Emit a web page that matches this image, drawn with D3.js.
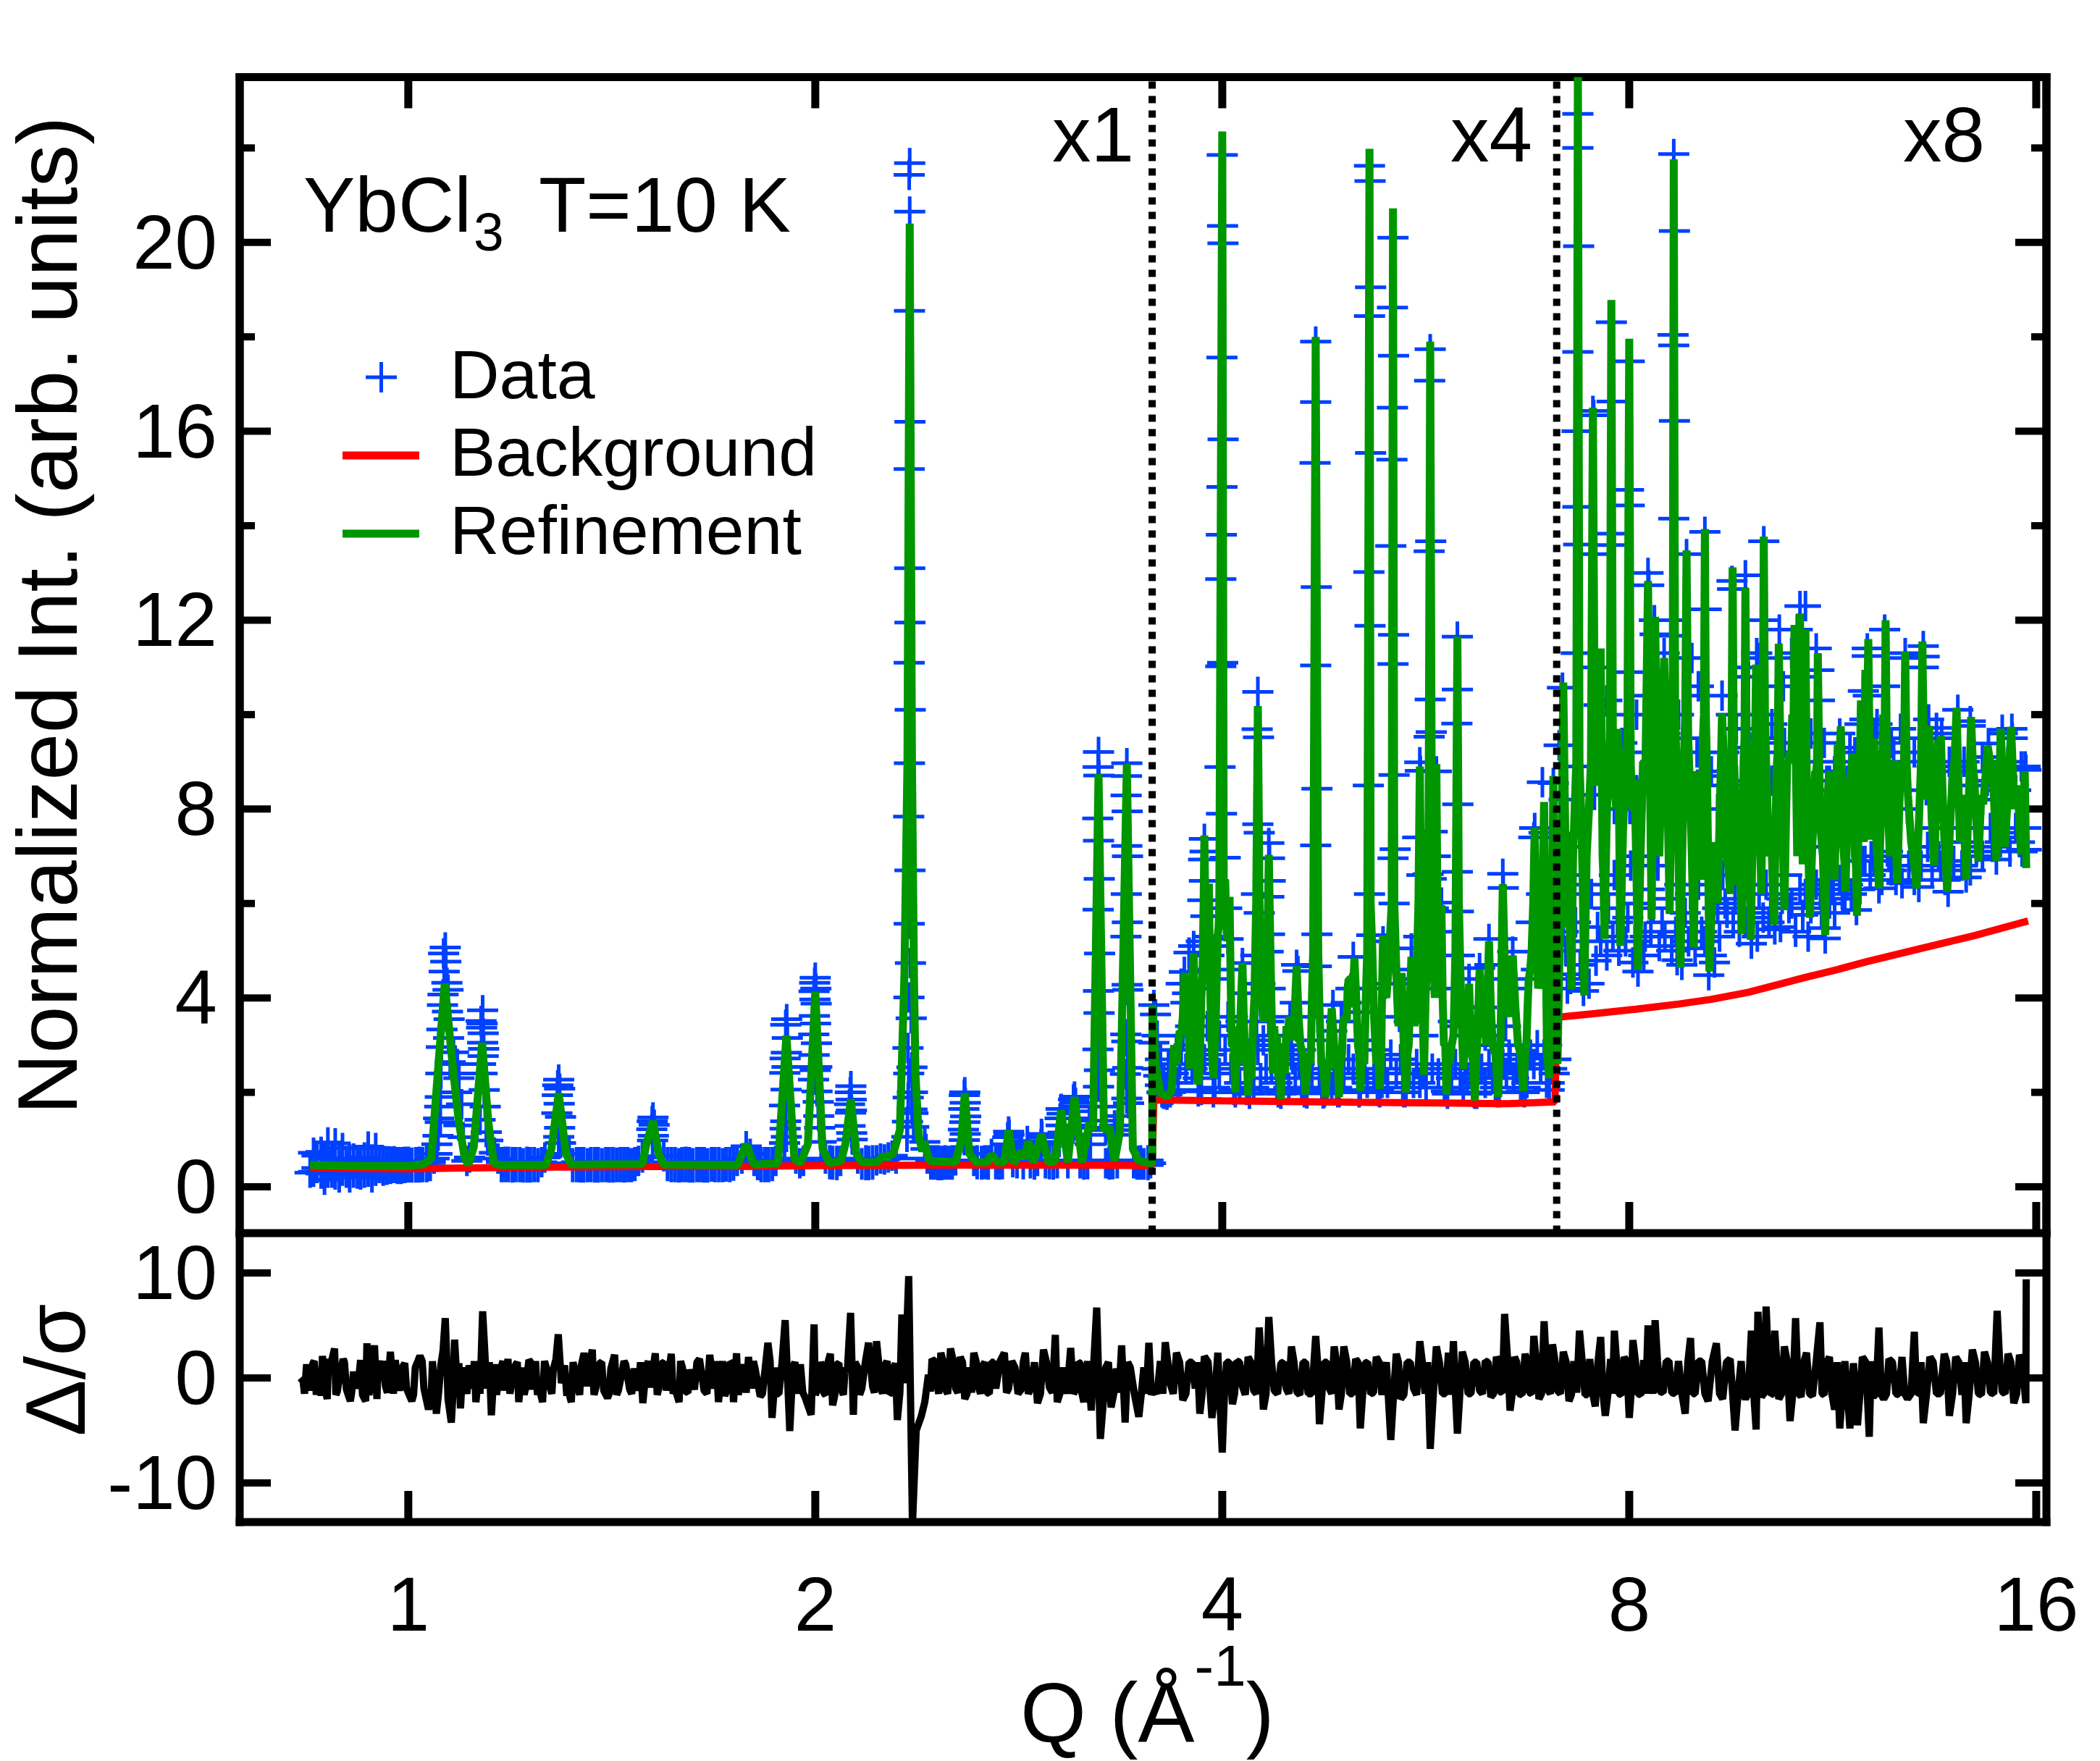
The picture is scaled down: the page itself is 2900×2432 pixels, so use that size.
<!DOCTYPE html>
<html><head><meta charset="utf-8">
<script src="https://cdn.jsdelivr.net/npm/d3@7/dist/d3.min.js"></script>
<style>
html,body{margin:0;padding:0;background:#fff}
text{font-family:"Liberation Sans",Arial,sans-serif;fill:#000}
</style></head><body>
<svg id="c" width="2900" height="2432"></svg>
<script>
// ---------- values: [Q, intensity] ----------
const dataX1Band=[[.846,.3],[.851,.72],[.856,.4],[.862,.74],[.867,.15],[.872,.94],[.878,.3],[.883,.92],[.889,.2],[.894,.82],[.9,.55],[.905,.2],[.911,.6],[.917,.28],[.922,.5],[.928,.3],[.934,.85],[.94,.2],[.946,.82],[.952,.4],[.958,.55],[.964,.36],[.97,.53],[.976,.4],[.982,.52],[.988,.38],[.994,.53],[1,.41],[1.006,.51],[1.013,.41],[1.019,.53],[1.025,.42],[1.032,.54],[1.038,.44],[1.045,.6],[1.05,.7],[1.105,.55],[1.11,.62],[1.158,.72],[1.165,.6],[1.172,.52],[1.179,.42],[1.186,.53],[1.194,.41],[1.201,.52],[1.209,.42],[1.216,.5],[1.224,.41],[1.231,.52],[1.239,.42],[1.247,.5],[1.255,.52],[1.262,.62],[1.315,.7],[1.323,.5],[1.332,.42],[1.34,.52],[1.348,.41],[1.357,.5],[1.365,.42],[1.374,.52],[1.382,.41],[1.391,.5],[1.4,.42],[1.408,.52],[1.417,.41],[1.426,.51],[1.435,.42],[1.444,.52],[1.453,.42],[1.462,.5],[1.471,.44],[1.48,.55],[1.49,.62],[1.545,.65],[1.555,.44],[1.565,.52],[1.575,.42],[1.585,.5],[1.594,.42],[1.604,.53],[1.614,.41],[1.624,.5],[1.635,.42],[1.645,.52],[1.655,.41],[1.665,.5],[1.676,.43],[1.686,.52],[1.697,.42],[1.708,.5],[1.718,.43],[1.729,.52],[1.74,.45],[1.751,.55],[1.765,.6],[1.778,.86],[1.79,.7],[1.802,.55],[1.813,.46],[1.824,.52],[1.836,.42],[1.847,.52],[1.859,.44],[1.87,.55],[1.935,.6],[1.948,.5],[1.96,.55],[2.035,.6],[2.05,.48],[2.06,.55],[2.075,.46],[2.088,.55],[2.15,.6],[2.165,.5],[2.18,.46],[2.19,.55],[2.205,.47],[2.22,.56],[2.235,.6],[2.25,.58],[2.265,.62],[2.28,.66],[2.295,.6],[2.42,.6],[2.435,.47],[2.45,.56],[2.465,.46],[2.48,.55],[2.495,.47],[2.51,.55],[2.525,.47],[2.54,.56],[2.62,.55],[2.635,.48],[2.655,.55],[2.67,.48],[2.685,.56],[2.7,.7],[2.72,.48],[2.735,.56],[2.75,.48],[2.8,.52],[2.82,.5],[2.835,.75],[2.85,.48],[2.87,.97],[2.885,.5],[2.905,.5],[2.92,.55],[2.96,.5],[2.98,.48],[3,.55],[3.02,.5],[3.075,.5],[3.14,.5],[3.16,.55],[3.18,.48],[3.28,.5],[3.3,.55],[3.32,.48],[3.345,.5],[3.44,.5],[3.46,.55],[3.48,.47],[3.5,.5],[3.525,.46],[3.54,.5]];
const dataX1BandAlt=[[.851,.32],[.856,.66],[.862,.28],[.867,.6],[.872,.3],[.878,.6],[.883,.26],[.889,.58],[.894,.34],[.9,.3],[.905,.58],[.911,.3],[.917,.56],[.922,.26],[.928,.62],[.934,.32],[.94,.58],[.946,.34],[.952,.56],[.958,.34],[.964,.54],[.97,.38],[.976,.54],[.982,.38],[.988,.52],[.994,.4],[1,.53],[1.006,.41],[1.013,.52],[1.019,.41],[1.025,.52],[1.032,.42],[1.038,.52],[1.172,.42],[1.179,.53],[1.186,.42],[1.194,.52],[1.201,.42],[1.209,.52],[1.216,.41],[1.224,.53],[1.231,.41],[1.239,.52],[1.247,.42],[1.323,.42],[1.332,.52],[1.34,.41],[1.348,.52],[1.357,.42],[1.365,.52],[1.374,.41],[1.382,.52],[1.391,.42],[1.4,.52],[1.408,.41],[1.417,.52],[1.426,.42],[1.435,.52],[1.444,.41],[1.453,.52],[1.462,.42],[1.471,.52],[1.555,.52],[1.565,.42],[1.575,.52],[1.585,.41],[1.594,.52],[1.604,.42],[1.614,.52],[1.624,.41],[1.635,.52],[1.645,.42],[1.655,.52],[1.665,.41],[1.676,.52],[1.686,.42],[1.697,.52],[1.708,.42],[1.718,.52],[1.729,.42],[1.74,.52],[1.813,.52],[1.824,.42],[1.836,.52],[1.847,.42],[1.859,.52],[2.05,.56],[2.06,.47],[2.075,.55],[2.165,.47],[2.18,.56],[2.19,.46],[2.205,.56],[2.435,.56],[2.45,.47],[2.465,.56],[2.48,.46],[2.495,.56],[2.51,.47],[2.525,.56],[2.635,.56],[2.655,.47],[2.67,.56],[2.685,.47],[2.72,.56],[2.735,.47],[2.75,.56],[2.82,.56],[2.85,.56],[2.885,.56],[2.905,.47],[2.96,.56],[2.98,.55],[3,.47],[3.02,.56],[3.14,.56],[3.16,.47],[3.18,.56],[3.3,.47],[3.32,.56],[3.44,.56],[3.46,.47],[3.48,.56],[3.5,.47],[3.525,.56]];
const dataX1Peaks=[[1.065,5.07],[1.062,4.94],[1.066,4.77],[1.063,4.56],[1.068,4.32],[1.07,4.17],[1.061,4.07],[1.06,3.85],[1.069,3.71],[1.072,3.55],[1.059,3.33],[1.071,3.15],[1.058,2.96],[1.074,2.64],[1.057,2.4],[1.056,1.9],[1.055,1.7],[1.053,1.45],[1.056,1.37],[1.052,1.08],[1.05,.9],[1.08,2.85],[1.087,2.6],[1.082,2.4],[1.09,2.3],[1.086,2.0],[1.095,1.75],[1.09,1.3],[1.098,1.05],[1.135,3.74],[1.132,3.51],[1.134,3.46],[1.133,3.37],[1.136,3.25],[1.135,3.05],[1.137,2.92],[1.136,2.77],[1.131,2.6],[1.134,2.4],[1.138,2.05],[1.14,1.7],[1.13,1.42],[1.142,1.16],[1.145,.98],[1.292,2.27],[1.29,2.15],[1.294,2.08],[1.289,1.94],[1.293,1.76],[1.288,1.56],[1.296,1.48],[1.294,1.25],[1.292,1.06],[1.296,.93],[1.517,1.47],[1.515,1.39],[1.52,1.31],[1.514,1.22],[1.518,1.08],[1.516,.98],[1.905,3.55],[1.902,3.43],[1.907,3.15],[1.904,2.84],[1.9,2.72],[1.906,2.54],[1.899,2.41],[1.903,2.06],[1.898,1.72],[1.902,1.39],[1.9,1.23],[1.904,1.06],[1.898,.93],[2,4.43],[1.998,4.32],[2.002,4.2],[1.996,4.14],[1.999,3.97],[2.003,3.88],[1.997,3.62],[2.001,3.46],[1.995,3.23],[2.004,3.04],[1.996,2.79],[2.005,2.54],[2,2.47],[1.994,2.27],[2.006,2.02],[2.01,1.8],[2.012,1.5],[2.015,1.25],[2.02,.95],[2.125,2.13],[2.123,2],[2.126,1.85],[2.12,1.75],[2.127,1.62],[2.124,1.57],[2.122,1.29],[2.128,1.14],[2.13,1],[2.349,21.68],[2.347,21.43],[2.349,20.65],[2.348,18.55],[2.35,16.2],[2.347,15.2],[2.349,13.1],[2.35,11.95],[2.347,11.1],[2.351,10.1],[2.348,8.97],[2.345,7.84],[2.35,6.7],[2.347,5.57],[2.352,4.74],[2.346,4.01],[2.355,3.57],[2.342,2.94],[2.358,2.53],[2.345,2.4],[2.36,2],[2.343,1.89],[2.358,1.64],[2.362,1.56],[2.34,1.38],[2.365,1.27],[2.338,1.06],[2.41,.95],[2.415,.8],[2.58,2],[2.578,1.94],[2.582,1.78],[2.576,1.65],[2.584,1.49],[2.58,1.37],[2.574,1.21],[2.582,1.12],[2.578,.99],[2.78,1.17],[2.782,1.1],[2.776,1.05],[2.78,.9],[2.784,.75],[2.94,1.12],[2.942,1.05],[2.938,.9],[3.04,1.65],[3.045,1.55],[3.035,1.45],[3.04,1.3],[3.05,1.15],[3.03,.95],[3.11,1.91],[3.105,1.85],[3.115,1.78],[3.11,1.7],[3.1,1.6],[3.12,1.45],[3.11,1.3],[3.19,1.4],[3.19,1.25],[3.185,1.1],[3.195,.9],[3.27,1.7],[3.275,1.4],[3.28,1.2],[3.33,1.3],[3.34,1.1],[3.36,1.5],[3.355,1.2],[3.24,9.21],[3.238,8.89],[3.242,8.71],[3.236,7.8],[3.24,7.33],[3.244,6.52],[3.238,5.87],[3.246,4.94],[3.24,4.15],[3.243,3.68],[3.237,2.91],[3.245,2.47],[3.24,2.12],[3.4,8.97],[3.398,8.7],[3.396,8.29],[3.402,7.95],[3.4,7.22],[3.404,7],[3.397,6.2],[3.403,5.6],[3.395,5.3],[3.402,4.28],[3.406,4.17],[3.394,3.23],[3.4,3.08],[3.405,2.52],[3.392,2.39],[3.4,1.87],[3.41,1.77]];
const dataX4Band=[[3.62,2.3],[3.65,2.6],[3.67,2.05],[3.69,2.5],[3.71,2.2],[3.73,2.9],[3.76,2.5],[3.78,3],[3.8,2.5],[3.82,2.9],[3.84,2.3],[3.86,2.05],[3.88,2.7],[3.9,3.4],[3.92,2.8],[3.94,2],[3.96,2.6],[3.98,2.4],[4.02,2.9],[4.04,3.6],[4.06,2.5],[4.08,2.05],[4.1,2.5],[4.12,2.2],[4.15,3],[4.18,2.05],[4.2,2.5],[4.22,2.1],[4.25,2.9],[4.27,2.3],[4.29,3.1],[4.31,2.5],[4.33,3.5],[4.35,2.5],[4.37,3],[4.39,2.2],[4.41,2.05],[4.43,2.3],[4.46,2.6],[4.48,2.1],[4.51,2.7],[4.53,2.3],[4.56,2.6],[4.58,2.1],[4.61,2.05],[4.63,2.5],[4.66,2.3],[4.72,2.4],[4.74,2.1],[4.76,2],[4.8,2.3],[4.82,2.05],[4.84,2.5],[4.86,2.1],[4.88,2],[4.92,2.4],[4.96,2.7],[5,2.5],[5.04,2.3],[5.06,2.05],[5.1,2.5],[5.12,2.2],[5.18,2.4],[5.21,2.1],[5.23,2],[5.27,2.5],[5.3,2.2],[5.33,2.8],[5.38,2.4],[5.42,2.7],[5.44,2.1],[5.46,2],[5.5,2.4],[5.54,2.2],[5.57,2.6],[5.6,2.2],[5.63,2.4],[5.66,2.1],[5.72,2.5],[5.78,2.4],[5.84,2.1],[5.87,1.97],[5.91,2.3],[5.95,2.6],[6,2.3],[6.03,2.1],[6.07,2.3],[6.11,2.4],[6.14,2],[6.17,1.97],[6.22,2.5],[6.26,2.2],[6.3,2.6],[6.34,2.3],[6.37,2.1],[6.41,2],[6.45,2.6],[6.49,2.4],[6.53,2.7],[6.57,2.3],[6.61,2.5],[6.65,2.1],[6.69,2],[6.72,2.2],[6.76,2.8],[6.8,2.6],[6.84,3],[6.88,2.5],[6.92,2.8],[6.95,2.2],[6.98,2.05],[7.01,2.5],[7.04,2.4]];
const dataX4=[[3.56,3.85],[3.57,3.65],[3.58,3.2],[3.56,3.05],[3.6,2.7],[3.58,2.5],[3.59,2.35],[3.6,2.15],[3.61,2],[3.62,1.97],[3.64,1.95],[3.66,2],[3.68,2.4],[3.7,2.9],[3.72,2.6],[3.74,3.2],[3.76,3.9],[3.77,4.1],[3.75,4.55],[3.73,4.3],[3.79,3.4],[3.81,5.1],[3.78,4.96],[3.82,4.2],[3.84,2.02],[3.85,2.9],[3.86,3.6],[3.87,4.6],[3.88,7.37],[3.885,7.1],[3.875,6.93],[3.88,6.48],[3.87,6.07],[3.89,5.73],[3.9,5.3],[3.91,4.9],[3.86,5.2],[3.93,3.4],[3.95,2.1],[3.97,5.1],[3.96,4.4],[3.98,3.2],[4,21.85],[4.002,20.35],[4.005,19.98],[3.998,17.56],[4.006,15.83],[3.998,14.82],[3.994,13.81],[3.99,12.87],[4.003,11.1],[3.99,11.02],[3.985,8.89],[3.995,7.9],[4.02,6.97],[4.03,5.9],[4.04,5.25],[4.05,4.6],[4.07,3.6],[4.09,2],[4.11,2.6],[4.13,3.5],[4.14,4.74],[4.15,4.1],[4.17,2.05],[4.19,1.97],[4.21,3],[4.23,4.3],[4.25,10.48],[4.245,9.69],[4.255,9.52],[4.25,7.68],[4.26,7.5],[4.24,6.2],[4.26,5.8],[4.235,4.9],[4.265,4.3],[4.24,3.5],[4.33,7.28],[4.335,6.96],[4.34,6.48],[4.33,6.14],[4.335,5.35],[4.325,4.98],[4.34,4.2],[4.36,3.2],[4.38,2.9],[4.4,2],[4.42,1.97],[4.45,3],[4.49,3.6],[4.5,2.8],[4.54,4.7],[4.55,4.57],[4.53,3.9],[4.57,2.9],[4.6,2],[4.62,1.98],[4.65,3.1],[4.69,17.9],[4.69,16.62],[4.685,15.33],[4.695,12.7],[4.69,11.04],[4.7,8.43],[4.69,7.23],[4.7,5.35],[4.695,4.67],[4.71,3.6],[4.73,2.5],[4.75,1.98],[4.78,2.05],[4.83,3.85],[4.82,3.3],[4.85,2.3],[4.87,2],[4.9,3.5],[4.94,3.9],[5,4.87],[4.98,4.2],[5.02,3.7],[5.05,2],[5.08,3.1],[5.14,21.62],[5.145,21.3],[5.15,19.05],[5.14,18.44],[5.15,15.54],[5.135,13.02],[5.145,11.88],[5.13,8.5],[5.14,6.2],[5.16,5.33],[5.17,4.2],[5.2,2.9],[5.22,2.03],[5.25,2.2],[5.26,5.2],[5.28,4.3],[5.35,20.1],[5.345,18.62],[5.355,17.6],[5.345,16.5],[5.34,15.4],[5.33,13.57],[5.355,11.69],[5.35,11.07],[5.36,8.72],[5.37,7.15],[5.35,6.96],[5.36,6],[5.38,4.6],[5.41,3.6],[5.45,2],[5.47,2.1],[5.5,3.5],[5.52,5.05],[5.54,4.3],[5.6,8.99],[5.605,8.81],[5.58,7.4],[5.62,6.6],[5.59,5.3],[5.61,4.4],[5.63,3.2],[5.7,17.74],[5.695,17.07],[5.705,13.67],[5.69,13.46],[5.7,10.32],[5.71,9.63],[5.69,9.53],[5.72,7.52],[5.68,6.62],[5.71,6.52],[5.73,5.9],[5.76,8.8],[5.75,7],[5.81,6.02],[5.8,5.4],[5.83,4.2],[5.86,2.02],[5.89,2.6],[5.93,3.5],[5.97,11.65],[5.97,10.53],[5.965,9.81],[5.975,8.1],[5.97,6.67],[5.98,5.83],[5.99,4.9],[6.02,3.4],[6.05,2.5],[6.09,4.4],[6.12,3.2],[6.15,1.97],[6.17,2.2],[6.2,4.63],[6.22,3.8],[6.26,3.2],[6.3,5.25],[6.31,4.7],[6.35,3],[6.39,2],[6.41,2.5],[6.45,6.63],[6.455,6.33],[6.44,5.25],[6.46,4.4],[6.48,3.4],[6.52,2.8],[6.56,4.98],[6.58,4.2],[6.62,3],[6.66,2.02],[6.7,2.1],[6.74,4.4],[6.81,7.6],[6.8,7.4],[6.77,5.6],[6.83,4.6],[6.9,8.57],[6.92,7.5],[6.89,6.2],[6.93,5.2],[6.95,3],[6.98,2.2],[7.03,8.55],[7.02,7.4],[7.04,6],[7.05,4.4],[7.06,2.7]];
const dataX8=[[7.14,10.57],[7.12,9.35],[7.1,9.35],[7.16,8.2],[7.18,6.6],[7.15,5.4],[7.2,4.2],[7.22,7.2],[7.28,4.5],[7.33,22.72],[7.33,22],[7.34,19.92],[7.33,17.68],[7.32,16],[7.33,14.4],[7.34,13.6],[7.31,11.3],[7.35,8.9],[7.37,6.4],[7.4,4.15],[7.47,4.3],[7.52,16.43],[7.53,16.34],[7.52,13.4],[7.5,11],[7.54,8.3],[7.56,4.79],[7.6,10.2],[7.62,5.2],[7.66,9.3],[7.7,4.9],[7.76,18.31],[7.77,16.63],[7.76,13.83],[7.75,13.59],[7.74,10],[7.78,5.3],[7.8,8],[7.86,5],[7.9,9.4],[7.95,5.2],[8,17.48],[7.99,14.76],[8,14.43],[8.02,10.9],[8.01,8],[8.05,4.75],[8.1,8.4],[8.12,4.56],[8.16,7],[8.2,4.9],[8.26,13],[8.27,12.74],[8.25,10.4],[8.24,9.2],[8.3,5.4],[8.35,12],[8.36,11.7],[8.37,9],[8.42,5.1],[8.49,11.3],[8.48,9.8],[8.5,5.3],[8.56,9.5],[8.6,5],[8.63,21.87],[8.64,20.24],[8.62,18.04],[8.63,17.82],[8.64,16.22],[8.63,14.15],[8.62,12],[8.63,11.67],[8.65,9.5],[8.68,4.8],[8.75,4.7],[8.82,13.4],[8.8,11.2],[8.84,9.5],[8.85,5.2],[8.95,5.05],[8.98,9.2],[9.05,5.4],[9.1,13.87],[9.12,12.23],[9.08,10.4],[9.13,8.7],[9.16,4.48],[9.2,4.9],[9.25,4.75],[9.3,8],[9.33,5.3],[9.37,10.4],[9.4,8.5],[9.45,5.8],[9.53,12.83],[9.54,12.66],[9.52,10],[9.55,5.6],[9.6,8.6],[9.65,5.4],[9.75,12.95],[9.74,11],[9.72,8],[9.75,5.6],[9.82,9.3],[9.85,5.15],[9.94,11.3],[9.92,8.4],[9.95,5.3],[10.02,9.5],[10.05,5.7],[10.06,13.67],[10.07,12],[10.08,10],[10.15,5.6],[10.2,8.6],[10.25,5.45],[10.33,11.8],[10.34,11.2],[10.32,9.2],[10.35,5.5],[10.42,9.4],[10.5,5.9],[10.55,11.3],[10.62,5.4],[10.65,11.8],[10.7,12.3],[10.68,10.8],[10.75,5.76],[10.8,12.3],[10.78,9],[10.85,5.3],[10.92,7.2],[11,11.4],[11.05,10.94],[11.06,10.3],[11.03,8.4],[11.08,6.2],[11.17,5.48],[11.17,5.26],[11.2,8.6],[11.25,8.6],[11.25,6],[11.32,6.3],[11.45,9.6],[11.4,9],[11.42,8.1],[11.45,6.5],[11.55,6.1],[11.6,8.6],[11.75,9.2],[11.7,8],[11.78,5.86],[11.85,9.8],[11.88,8.2],[11.92,10.5],[11.92,6.9],[12,11.4],[12,11.24],[12.02,10.4],[11.98,9],[12.08,7],[12.16,9.6],[12.24,6.32],[12.28,8.6],[12.36,11.8],[12.36,10.6],[12.4,8.8],[12.45,7],[12.55,9.2],[12.6,8.4],[12.73,6.43],[12.75,9],[12.8,11.3],[12.8,11.2],[12.78,9.5],[12.85,8],[12.95,7],[13.1,6.35],[13.2,11.45],[13.22,11.23],[13.2,11],[13.18,9.2],[13.27,8.4],[13.32,9.9],[13.38,7.6],[13.5,9.72],[13.5,9.5],[13.55,7],[13.62,9.6],[13.77,6.25],[13.82,8.8],[14,10.1],[14.02,8.9],[14.05,7.6],[14.2,6.55],[14.25,7.3],[14.3,9.86],[14.3,9.76],[14.35,8.8],[14.42,8.5],[14.5,7.2],[14.6,8.2],[14.75,9.39],[14.72,8.6],[14.8,7.6],[14.95,6.93],[15,8.4],[15.1,9.68],[15.1,9.6],[15.15,8.2],[15.17,7.5],[15.3,7.1],[15.35,9.7],[15.36,9.5],[15.45,8.4],[15.55,7.3],[15.62,7.1],[15.7,8.9],[15.72,8.83],[15.72,7.6],[15.73,7.14]];
const dataX8Band=[[7.18,5],[7.24,4.4],[7.3,5.6],[7.36,4.7],[7.44,5.2],[7.5,6.2],[7.58,5.5],[7.64,6.4],[7.72,5.9],[7.8,6.6],[7.84,5.6],[7.92,6.2],[7.98,5.7],[8.02,6.8],[8.08,5.2],[8.15,6],[8.22,5.3],[8.28,6.3],[8.33,5.9],[8.4,6.8],[8.46,5.6],[8.54,6.1],[8.66,5.4],[8.72,6.4],[8.8,5.8],[8.88,6.2],[8.92,5.6],[9,6.4],[9.1,5.2],[9.2,5.6],[9.3,5.9],[9.38,6.6],[9.42,6],[9.5,6.6],[9.58,6.1],[9.62,6.8],[9.7,5.9],[9.78,6.4],[9.88,5.8],[9.98,6.2],[10.1,6.4],[10.18,5.9],[10.28,6.2],[10.38,6.1],[10.46,6.6],[10.55,6],[10.7,6.3],[10.8,6.2],[10.9,5.9],[11,6.4],[11.1,5.8],[11.25,6.5],[11.35,5.8],[11.5,6.2],[11.6,6.4],[11.68,6.2],[11.74,6.5],[11.85,6.3],[11.95,6.9],[12.06,6.6],[12.14,6.9],[12.3,6.5],[12.42,7.1],[12.5,6.7],[12.6,6.5],[12.68,7],[12.88,6.8],[13,6.5],[13.15,6.8],[13.3,7.2],[13.4,6.7],[13.6,6.8],[13.7,6.5],[13.9,6.9],[14.1,6.8],[14.3,6.7],[14.45,7.1],[14.6,7],[14.85,7.2],[15.05,7.3],[15.25,7.4],[15.45,7.6],[7.7,10.3],[7.9,8],[8.1,10],[8.3,8.6],[8.5,9.6],[8.7,10],[8.9,11.2],[9,10.6],[9.2,8.8],[9.4,9.2],[9.6,9.7],[9.8,10.8],[10,11.2],[10.2,9.8],[10.4,10.6],[10.6,9],[10.9,9.6],[11.15,9.4],[11.35,8.8],[11.65,9.3],[11.95,9.9],[12.2,9.8],[12.5,9.4],[12.7,9.7],[13,9.2],[13.4,8.9],[13.8,9],[14.15,9],[14.6,9.1],[15.25,9],[15.6,8.9]];
const fitX1=[[.846,.46],[.92,.44],[1,.44],[1.027,.48],[1.04,.6],[1.053,2.64],[1.064,4.3],[1.08,2.4],[1.09,1.37],[1.101,.6],[1.108,.47],[1.118,.85],[1.134,3.05],[1.146,1.37],[1.157,.5],[1.17,.46],[1.264,.46],[1.276,.8],[1.292,1.98],[1.308,.7],[1.32,.47],[1.49,.48],[1.5,.9],[1.517,1.39],[1.532,.7],[1.545,.47],[1.752,.46],[1.778,.9],[1.802,.47],[1.877,.5],[1.904,3.2],[1.93,.6],[1.95,.5],[1.975,.9],[2,4.13],[2.025,.8],[2.05,.5],[2.09,.55],[2.105,.9],[2.125,1.85],[2.145,.7],[2.165,.52],[2.22,.52],[2.245,.65],[2.26,.62],[2.285,.72],[2.31,1.2],[2.328,4.5],[2.34,9],[2.349,20.4],[2.358,9],[2.366,4.5],[2.372,2.4],[2.385,1.1],[2.4,.75],[2.407,.96],[2.43,.55],[2.54,.52],[2.565,1],[2.58,1.98],[2.6,.7],[2.63,.52],[2.68,.52],[2.7,.68],[2.73,.52],[2.76,.52],[2.78,1.2],[2.805,.5],[2.84,.75],[2.855,.6],[2.875,.96],[2.9,.52],[2.94,1.11],[2.975,.52],[3.01,.55],[3.04,1.62],[3.075,.52],[3.11,1.9],[3.15,.52],[3.19,1.36],[3.21,1.2],[3.24,8.74],[3.27,1.2],[3.3,1.26],[3.33,.55],[3.36,1.16],[3.4,8.95],[3.435,.8],[3.47,.55],[3.54,.5],[3.55,.5]];
const fitX4=[[3.552,3.85],[3.57,2.6],[3.6,2],[3.64,1.9],[3.67,2.05],[3.7,2.6],[3.73,3.2],[3.75,4.53],[3.77,3.2],[3.785,2.5],[3.81,4.94],[3.83,2.6],[3.84,2.17],[3.85,2.6],[3.868,4.5],[3.88,7.44],[3.895,5.6],[3.91,6.42],[3.925,3.2],[3.94,2.3],[3.955,3.4],[3.97,5.35],[3.98,6],[4,22.35],[4.02,6.5],[4.035,5.2],[4.05,6.14],[4.065,3],[4.09,2],[4.115,2.6],[4.14,4.74],[4.16,2.6],[4.18,1.93],[4.205,2.3],[4.225,4],[4.25,10.18],[4.272,4.4],[4.29,3.5],[4.315,4.2],[4.33,7.03],[4.35,3.8],[4.36,2.4],[4.38,2.92],[4.4,2.3],[4.42,1.86],[4.45,2.4],[4.475,3.2],[4.49,3.47],[4.515,3.1],[4.54,4.67],[4.57,3],[4.61,1.96],[4.65,2.6],[4.67,5],[4.69,18],[4.71,5],[4.735,2.6],[4.77,1.9],[4.8,2.6],[4.82,3.78],[4.85,2.5],[4.88,1.9],[4.905,2.8],[4.92,3.54],[4.945,3.5],[4.96,4.39],[5.01,4.84],[5.04,3],[5.06,2.03],[5.095,2.6],[5.12,5],[5.14,21.98],[5.165,5],[5.2,2.6],[5.23,2.07],[5.245,3],[5.26,5.32],[5.29,4],[5.325,5.4],[5.35,20.72],[5.375,5],[5.4,3.4],[5.43,4.53],[5.455,2.6],[5.47,2],[5.495,3],[5.52,4.87],[5.55,3.4],[5.575,5],[5.6,8.9],[5.625,4],[5.64,2.37],[5.675,5],[5.7,17.9],[5.73,5],[5.745,4],[5.76,8.95],[5.785,4.5],[5.81,5.97],[5.835,3],[5.86,1.96],[5.895,2.6],[5.93,3.2],[5.95,5],[5.97,11.65],[6,4.6],[6.03,2.5],[6.065,3],[6.09,4.3],[6.12,2.8],[6.15,1.83],[6.175,3],[6.2,4.6],[6.235,3.8],[6.27,3],[6.3,5.2],[6.34,3],[6.4,1.9],[6.425,3],[6.45,6.41],[6.485,3.8],[6.52,3.6],[6.56,4.9],[6.62,3],[6.68,2.03],[6.715,3],[6.74,4.36],[6.775,5],[6.81,7.6],[6.85,4.2],[6.885,4.5],[6.92,8.15],[6.955,2.8],[6.98,2.3],[7.005,4],[7.03,8.7],[7.055,3.2],[7.08,2.6]];
const fitX4Fine=[[3.685,3],[3.72,3.3],[3.74,3.6],[3.76,3.9],[3.775,3.5],[3.795,4],[3.82,3.4],[3.86,4],[3.875,6],[3.888,5.5],[3.902,5.4],[3.917,4.5],[3.962,4.4],[3.975,5.5],[4.01,6.5],[4.028,5.5],[4.042,5.6],[4.057,4.5],[4.075,3.2],[4.103,3.4],[4.128,3.8],[4.15,3.5],[4.17,2.8],[4.195,3],[4.215,3.4],[4.238,6],[4.262,6],[4.28,3.8],[4.303,3.8],[4.322,5.5],[4.342,5],[4.37,3.4],[4.39,3.2],[4.41,2.6],[4.435,3],[4.462,3.4],[4.482,3.6],[4.503,3.5],[4.53,4],[4.555,3.6],[4.59,2.8],[4.63,2.8],[4.66,4],[4.72,3.8],[4.75,2.6],[4.785,2.7],[4.81,3.4],[4.835,3.2],[4.865,3],[4.89,2.6],[4.912,3.4],[4.932,3.6],[4.952,4.2],[4.975,4.4],[4.99,3.8],[5.025,4],[5.05,2.8],[5.08,3],[5.108,4],[5.15,6],[5.18,3.6],[5.215,3],[5.253,4.4],[5.275,4.4],[5.31,4.6],[5.338,6],[5.362,6],[5.388,4],[5.415,4],[5.443,3.4],[5.483,2.8],[5.508,4],[5.535,4],[5.562,4],[5.587,6],[5.612,6],[5.655,4],[5.685,8],[5.715,8],[5.752,6],[5.77,6],[5.797,5],[5.822,4],[5.848,3],[5.878,2.8],[5.912,3],[5.94,4],[5.985,6],[6.015,3.4],[6.048,3],[6.078,3.7],[6.105,3.4],[6.135,2.6],[6.163,2.7],[6.188,3.8],[6.218,4],[6.252,3.6],[6.285,4],[6.32,3.8],[6.37,2.8],[6.412,2.8],[6.437,4.8],[6.468,5],[6.5,3.8],[6.54,4.2],[6.59,3.8],[6.65,2.8],[6.7,2.8],[6.728,3.8],[6.758,4.6],[6.793,6],[6.83,5.5],[6.868,4.4],[6.902,6],[6.94,5],[6.968,2.6],[6.992,3.2],[7.018,6],[7.043,5.5],[7.07,3]];
const fitX8=[[7.11,5.5],[7.15,10.68],[7.19,5.5],[7.25,4.18],[7.29,8],[7.33,23.8],[7.37,8],[7.41,4.05],[7.47,8],[7.52,16.5],[7.57,8.5],[7.62,11.4],[7.645,7],[7.67,5.25],[7.72,9],[7.76,18.78],[7.8,8.5],[7.85,9.7],[7.88,5.1],[7.95,9],[8,17.96],[8.04,8],[8.07,8.62],[8.12,4.6],[8.19,9],[8.26,12.83],[8.31,5.66],[8.36,12.07],[8.42,7],[8.49,11.2],[8.57,5.8],[8.6,9],[8.63,21.76],[8.67,9],[8.73,4.64],[8.78,9],[8.82,13.48],[8.87,8.5],[8.93,5.07],[8.98,8.8],[9.04,6.5],[9.07,9.5],[9.1,13.93],[9.13,9],[9.17,4.56],[9.25,7.3],[9.3,6],[9.37,10.03],[9.44,7],[9.5,6.2],[9.54,13.12],[9.58,8.5],[9.62,6.4],[9.69,5.35],[9.72,9],[9.75,12.68],[9.79,9],[9.84,5.23],[9.89,8.6],[9.93,11.06],[9.97,8.5],[10.02,6.2],[10.06,13.77],[10.1,9],[10.15,7],[10.24,5.55],[10.28,8.8],[10.32,11.5],[10.37,8.5],[10.42,5.86],[10.47,9],[10.52,9.2],[10.56,10],[10.6,11.9],[10.65,7],[10.7,12.14],[10.75,6.83],[10.8,11.8],[10.84,7.6],[10.88,5.7],[10.96,8.2],[11,8.8],[11.03,11.3],[11.08,7.6],[11.17,5.33],[11.22,8.3],[11.27,8.5],[11.31,7],[11.35,6.5],[11.41,9.36],[11.47,9.75],[11.52,7.2],[11.56,6.25],[11.63,8.4],[11.71,9.17],[11.75,7],[11.79,5.74],[11.83,8],[11.87,10.3],[11.93,7.3],[11.96,10.95],[12.02,11.6],[12.08,7.35],[12.14,9.5],[12.19,7.2],[12.24,6.32],[12.29,8],[12.33,10],[12.38,12],[12.43,8.2],[12.47,7],[12.55,9.03],[12.63,6.43],[12.7,9],[12.75,8.8],[12.8,11.33],[12.86,8.3],[12.93,7.3],[13.05,6.32],[13.12,8.2],[13.18,11.55],[13.25,8.2],[13.33,9.76],[13.39,7.8],[13.45,6.8],[13.53,9.47],[13.6,9.55],[13.68,7.4],[13.75,6.25],[13.87,8.6],[13.97,10.14],[14.05,7.3],[14.12,8.3],[14.2,6.5],[14.27,8.4],[14.32,9.95],[14.4,8.6],[14.5,6.9],[14.57,8.3],[14.62,8.1],[14.73,9.34],[14.85,9],[14.95,6.9],[15.02,8.4],[15.06,9.7],[15.13,8.2],[15.17,7.2],[15.25,8.4],[15.33,9.74],[15.42,8],[15.5,8.5],[15.59,7.04],[15.69,8.8],[15.73,6.75]];
const fitX8Fine=[[7.13,7.5],[7.17,8],[7.22,6],[7.27,7],[7.31,9],[7.35,9],[7.39,6.5],[7.44,7],[7.495,9],[7.545,9],[7.595,9],[7.657,6.5],[7.695,7.5],[7.74,9.5],[7.78,9.5],[7.825,8],[7.865,7.5],[7.915,7.5],[7.975,9.5],[8.02,9],[8.055,8],[8.095,7],[8.155,7],[8.225,9],[8.285,9],[8.335,9],[8.39,9],[8.455,9],[8.53,9],[8.585,7.5],[8.615,10],[8.65,10],[8.7,7],[8.755,7],[8.8,10],[8.845,9.5],[8.9,7],[8.955,7.5],[9.01,7.5],[9.055,8],[9.085,10],[9.115,10],[9.15,7],[9.21,6],[9.275,6.8],[9.335,8],[9.405,8.8],[9.47,6.8],[9.52,9],[9.56,9],[9.6,7.6],[9.655,7],[9.705,7.5],[9.735,9.5],[9.77,9.5],[9.815,7.3],[9.865,7],[9.91,9.2],[9.95,9.2],[9.995,7.3],[10.04,9],[10.08,10],[10.125,8],[10.195,7.2],[10.26,7.2],[10.3,9.2],[10.345,9.5],[10.395,7.2],[10.445,7.6],[10.495,9],[10.54,9],[10.58,9.5],[10.625,9],[10.675,9],[10.725,9],[10.775,9],[10.82,9],[10.86,6.8],[10.92,7],[10.98,8.8],[11.015,9],[11.055,9],[11.125,7],[11.195,7],[11.245,8.8],[11.29,8],[11.33,7],[11.38,8],[11.44,9],[11.495,8.5],[11.54,6.9],[11.595,7.5],[11.67,8.8],[11.73,8.6],[11.77,6.8],[11.81,7],[11.85,9],[11.9,9],[11.945,9],[11.99,9.2],[12.05,9],[12.11,8.5],[12.165,8.3],[12.215,6.9],[12.265,7.3],[12.31,9],[12.355,9],[12.405,9.2],[12.45,7.5],[12.51,8.2],[12.59,7.4],[12.665,7.8],[12.725,8.9],[12.775,9],[12.83,9],[12.895,7.8],[12.99,6.9],[13.085,7.3],[13.15,9],[13.215,9],[13.29,8.9],[13.36,8.8],[13.42,7.3],[13.49,8],[13.565,8.6],[13.64,8.4],[13.715,6.9],[13.81,7.5],[13.92,9],[14.01,8.7],[14.085,7.8],[14.16,7.4],[14.235,7.5],[14.295,9],[14.36,9],[14.45,7.7],[14.535,7.6],[14.595,8.2],[14.675,8.7],[14.79,9],[14.9,8],[14.985,7.7],[15.04,9],[15.095,9],[15.15,7.7],[15.21,7.8],[15.29,9],[15.375,8.8],[15.46,8.2],[15.545,7.8],[15.64,7.9]];
const backgroundCurve=[[.846,.4],[1,.38],[1.1,.4],[1.3,.42],[1.5,.43],[1.75,.43],[2,.45],[2.5,.46],[3,.46],[3.55,.45],[3.56,1.84],[4,1.82],[5,1.79],[6,1.77],[6.5,1.76],[7.05,1.8],[7.07,3.59],[7.5,3.66],[8.09,3.76],[8.7,3.87],[9.2,3.97],[9.8,4.12],[10.3,4.28],[10.78,4.43],[11.4,4.6],[12,4.77],[13.03,5.02],[14.4,5.32],[15.78,5.63]];
const residual=[[.832,0],[.836,-.3],[.841,1.3],[.846,-1.2],[.85,1.4],[.855,-1.6],[.86,.9],[.864,2.1],[.868,-1],[.871,-2],[.876,1.2],[.882,2.8],[.886,-1.3],[.891,.6],[.895,1.8],[.9,-1.1],[.906,-2.2],[.911,.6],[.915,-1],[.92,.5],[.925,-1.6],[.93,-2.2],[.932,3.3],[.938,-.9],[.944,3.1],[.948,-2],[.953,.7],[.957,1.6],[.962,-.8],[.97,2.5],[.975,-1.5],[.98,.8],[.985,-1.2],[.991,1.1],[.997,-1],[1.006,-2.2],[1.012,1],[1.02,2.1],[1.027,-1],[1.035,-3],[1.042,1.6],[1.049,-3.4],[1.057,1.2],[1.061,2.6],[1.065,5.7],[1.07,-2],[1.076,-4.25],[1.082,3.65],[1.087,-.8],[1.093,-2.9],[1.097,1],[1.101,-.6],[1.109,1.2],[1.116,-1],[1.122,-2.3],[1.128,.6],[1.135,6.35],[1.143,-1],[1.152,-3.55],[1.158,1.3],[1.165,-.7],[1.171,1],[1.178,-1.2],[1.185,1.8],[1.192,-.6],[1.2,1.2],[1.207,-2.3],[1.214,1],[1.222,-.8],[1.228,1.7],[1.235,-1.1],[1.242,1.6],[1.25,-1],[1.257,-2.3],[1.265,1],[1.273,-.9],[1.28,.8],[1.286,1.8],[1.291,4.15],[1.298,-.5],[1.305,1.2],[1.312,-1],[1.32,-2.3],[1.327,.8],[1.335,-1],[1.342,1.1],[1.349,2.35],[1.356,-.8],[1.362,1.2],[1.368,2.7],[1.376,-1],[1.385,1.4],[1.395,-1.2],[1.404,-1.9],[1.412,.9],[1.421,2.2],[1.43,-1.2],[1.44,.7],[1.448,1.3],[1.458,-1.1],[1.469,.9],[1.48,-1.2],[1.491,-2.4],[1.5,1],[1.51,-.9],[1.523,2.35],[1.532,-1],[1.54,1.4],[1.552,-1.2],[1.565,2.3],[1.575,-1],[1.586,-2.3],[1.595,1],[1.604,-1.3],[1.615,.8],[1.628,-1.1],[1.642,1.8],[1.655,-1.2],[1.671,2.2],[1.683,-1],[1.696,-2.3],[1.708,1.6],[1.72,-1.2],[1.73,1.5],[1.74,-2.3],[1.749,2.35],[1.758,-1],[1.77,1.3],[1.785,2],[1.795,-1],[1.805,.9],[1.821,-1.75],[1.835,.5],[1.845,3.35],[1.858,-3.8],[1.87,1],[1.88,-1.5],[1.9,5.5],[1.915,-5.05],[1.925,1],[1.94,-1.5],[1.95,1.3],[1.965,-1.8],[1.986,-3.5],[1.996,5.1],[2.01,-1],[2.025,1],[2.035,-1.6],[2.052,2.3],[2.06,-2.6],[2.075,1.3],[2.09,-1],[2.105,1],[2.112,.5],[2.124,6.2],[2.134,-3.5],[2.15,1],[2.165,-1],[2.19,3.35],[2.205,-.8],[2.22,3.5],[2.235,-.7],[2.25,1.1],[2.27,-1.5],[2.285,.8],[2.3,-4],[2.318,6.05],[2.33,-.5],[2.345,9.7],[2.36,-14],[2.375,-5],[2.395,-3.7],[2.41,-2.3],[2.425,.3],[2.44,1.8],[2.46,-.5],[2.477,2.4],[2.495,-1],[2.518,2.8],[2.54,-1],[2.56,2],[2.58,-2],[2.6,1],[2.62,2.4],[2.64,-.8],[2.66,1.2],[2.68,-1.4],[2.7,1.5],[2.72,-1],[2.76,2.4],[2.78,-1],[2.81,1],[2.84,-1.1],[2.86,2.4],[2.89,-.8],[2.92,-2.4],[2.95,2.7],[2.98,-.9],[3.01,4.1],[3.02,-2.3],[3.05,1],[3.09,2.85],[3.12,-1],[3.14,1.4],[3.16,-2.3],[3.2,-3.1],[3.23,6.7],[3.25,-5.8],[3.28,1],[3.31,-2.8],[3.34,.9],[3.37,3.1],[3.39,-4.25],[3.42,1],[3.47,-3.7],[3.5,1],[3.53,3.35],[3.56,-1],[3.6,1.6],[3.63,3.4],[3.66,-.5],[3.7,2.4],[3.74,-2.1],[3.78,1.5],[3.82,-1],[3.85,-3.4],[3.88,2.05],[3.93,-3.8],[3.97,2.4],[4,-7.1],[4.03,1.5],[4.07,-2.5],[4.1,1.6],[4.14,-.8],[4.18,2],[4.22,-1.2],[4.26,4.8],[4.29,-3],[4.33,5.8],[4.37,-1.2],[4.42,1.4],[4.46,-1],[4.5,3],[4.54,-1.3],[4.59,1.5],[4.63,-1.5],[4.69,4],[4.72,-4.4],[4.76,1.5],[4.8,-1],[4.84,3],[4.88,-3],[4.92,3],[4.97,-1.5],[5.02,1.8],[5.06,-4.8],[5.1,1.4],[5.15,-1.5],[5.2,2],[5.25,-1.6],[5.33,-5.9],[5.38,2.3],[5.42,-2],[5.48,1.5],[5.54,-1],[5.6,3.5],[5.65,-1.5],[5.7,-6.75],[5.76,3],[5.82,-1.5],[5.88,2.4],[5.93,3.5],[5.97,-5.3],[6.02,2.5],[6.08,-1.5],[6.14,1.5],[6.2,-1.2],[6.26,1.6],[6.32,-1.8],[6.38,2],[6.42,-1.3],[6.47,6.1],[6.53,-3.1],[6.58,2],[6.63,-1.5],[6.7,2.3],[6.75,-1.4],[6.8,4],[6.86,-2],[6.92,5.4],[6.97,-1.2],[7.02,3.2],[7.08,-1.2],[7.15,2.5],[7.22,-2.2],[7.28,1.6],[7.35,4.5],[7.42,-1.6],[7.48,1.8],[7.55,-2.7],[7.62,3.9],[7.68,-3.6],[7.75,1.8],[7.8,4.5],[7.86,-1.5],[7.93,2],[8,-3.8],[8.05,3.6],[8.12,-1.5],[8.2,1.7],[8.26,5],[8.33,-1.5],[8.36,5.5],[8.43,-1.3],[8.52,1.6],[8.6,-1.4],[8.7,1.6],[8.8,-3.4],[8.88,3.8],[8.95,-1.5],[9.05,1.6],[9.15,-2.2],[9.28,3.3],[9.38,-2],[9.5,1.8],[9.58,-5],[9.68,1.6],[9.75,-2],[9.85,4.5],[9.93,-4.9],[9.96,6.3],[10.02,-1.8],[10.1,6.8],[10.18,-1.6],[10.25,4.5],[10.32,-2],[10.42,3],[10.52,-4.1],[10.62,5.7],[10.72,-1.8],[10.82,2.4],[10.93,-1.7],[11.07,5.3],[11.15,-1.6],[11.25,2],[11.35,-3],[11.45,-4.8],[11.55,1.6],[11.65,-4.8],[11.72,1.4],[11.8,-4.5],[11.9,2],[12.04,-5.6],[12.12,-1.8],[12.24,4.8],[12.34,-2],[12.45,1.8],[12.6,-1.5],[12.73,2],[12.85,-2],[13,4.4],[13.1,-1.4],[13.2,-4.3],[13.35,2],[13.5,-1.5],[13.68,2.3],[13.8,-3.6],[13.95,2],[14.1,-1.6],[14.2,-4.3],[14.35,2.7],[14.5,-1.5],[14.65,2.5],[14.8,-1.4],[14.97,6.4],[15.1,-1.3],[15.25,2.3],[15.4,-2.4],[15.55,2.2],[15.72,-2.4],[15.73,9.4]];
const residualFine=[[.838,-1.5],[.852,1.6],[.862,-1.7],[.873,1.8],[.884,-1.6],[.897,1.5],[.908,-1.4],[.922,1.7],[.935,-1.6],[.95,1.6],[.965,-1.4],[.978,1.7],[.994,1.4],[1.009,-1.6],[1.024,1.6],[1.04,-1.5],[1.053,-1.4],[1.068,1.4],[1.079,-1.6],[1.09,1.4],[1.105,-1.5],[1.119,1.6],[1.13,-1.5],[1.148,1.5],[1.162,-1.6],[1.175,1.6],[1.189,-1.5],[1.204,1.5],[1.218,-1.6],[1.232,1.5],[1.246,-1.6],[1.261,1.6],[1.277,-1.5],[1.295,1.5],[1.31,-1.7],[1.324,1.5],[1.339,-1.6],[1.353,1.6],[1.372,-1.6],[1.39,1.5],[1.408,-1.5],[1.426,-1.6],[1.444,1.6],[1.463,-1.5],[1.485,1.5],[1.505,1.6],[1.528,-1.6],[1.546,1.5],[1.57,-1.5],[1.59,1.6],[1.61,-1.4],[1.635,1.5],[1.663,-1.5],[1.69,1.6],[1.714,-1.7],[1.735,1.4],[1.754,-1.6],[1.778,-1.4],[1.8,1.6],[1.828,-1.5],[1.852,1.6],[1.875,-1.5],[1.89,1.5],[1.932,1.5],[1.958,-1.4],[2,-1.6],[2.018,1.5],[2.03,-1.5],[2.044,1.5],[2.068,-1.6],[2.082,1.4],[2.098,-1.6],[2.14,1.5],[2.157,-1.6],[2.178,1.5],[2.212,-1.4],[2.228,1.5],[2.243,-1.5],[2.26,1.6],[2.278,-1.4],[2.292,1.4],[2.31,-1.4],[2.433,-1.3],[2.45,1.6],[2.468,-1.5],[2.486,1.6],[2.506,-1.5],[2.53,1.6],[2.55,-1.4],[2.57,1.5],[2.59,-1.5],[2.61,-1.4],[2.63,1.6],[2.65,-1.5],[2.67,1.5],[2.69,-1.5],[2.71,1.5],[2.74,1.6],[2.77,-1.4],[2.795,1.6],[2.825,-1.5],[2.85,1.5],[2.875,-1.5],[2.905,1.5],[2.935,-1.5],[2.965,1.5],[2.995,-1.4],[3.035,-1.4],[3.07,-1.5],[3.105,-1.5],[3.13,1.5],[3.15,-1.5],[3.18,1.6],[3.27,-1.5],[3.295,1.5],[3.325,-1.5],[3.355,-1.4],[3.405,1.5],[3.445,-1.6],[3.485,-1.5],[3.515,-1.5],[3.545,-1.6],[3.58,-1.5],[3.615,-1.5],[3.645,1.6],[3.68,-1.5],[3.72,1.5],[3.76,-1.5],[3.8,1.5],[3.835,1.5],[3.865,-1.5],[3.905,1.5],[3.95,-1.5],[4.015,-1.5],[4.05,1.5],[4.085,-1.5],[4.12,1.5],[4.16,-1.6],[4.2,1.5],[4.24,-1.5],[4.275,1.5],[4.31,-1.5],[4.35,1.6],[4.395,-1.5],[4.44,1.5],[4.48,-1.5],[4.52,1.5],[4.565,-1.6],[4.61,1.5],[4.66,-1.5],[4.705,1.5],[4.74,-1.5],[4.78,1.5],[4.82,-1.5],[4.86,1.5],[4.9,-1.5],[4.945,1.5],[4.995,-1.5],[5.04,1.5],[5.08,-1.6],[5.125,1.5],[5.175,-1.4],[5.225,1.5],[5.29,1.5],[5.355,-1.6],[5.4,1.5],[5.45,-1.6],[5.51,1.5],[5.57,-1.6],[5.625,1.4],[5.675,1.5],[5.73,-1.6],[5.79,1.5],[5.85,-1.5],[5.905,-1.6],[5.95,-1.4],[5.995,-1.5],[6.05,1.5],[6.11,-1.5],[6.17,1.5],[6.23,-1.5],[6.29,1.5],[6.35,-1.5],[6.4,1.6],[6.445,-1.4],[6.505,1.5],[6.555,-1.5],[6.605,1.5],[6.665,-1.6],[6.725,1.5],[6.775,-1.5],[6.83,1.5],[6.89,-1.5],[6.945,1.5],[6.995,-1.5],[7.05,1.6],[7.115,-1.5],[7.185,1.5],[7.25,-1.6],[7.315,-1.4],[7.385,1.5],[7.45,-1.6],[7.515,-1.4],[7.585,1.5],[7.65,-1.5],[7.715,-1.5],[7.775,-1.5],[7.83,1.5],[7.895,-1.6],[7.965,1.5],[8.025,-1.5],[8.085,1.6],[8.16,-1.6],[8.23,-1.5],[8.295,1.5],[8.395,1.6],[8.475,-1.4],[8.56,1.6],[8.65,-1.5],[8.75,-1.5],[8.84,1.5],[8.915,-1.5],[9,1.6],[9.1,-1.5],[9.215,1.6],[9.33,-1.5],[9.44,1.5],[9.54,-1.5],[9.63,-1.4],[9.715,-1.5],[9.8,-1.4],[9.89,-1.5],[10.06,-1.5],[10.14,1.5],[10.215,-1.5],[10.285,1.5],[10.37,-1.5],[10.47,1.5],[10.57,-1.5],[10.67,-1.4],[10.77,1.5],[10.875,-1.5],[11,1.6],[11.11,-1.5],[11.2,1.5],[11.3,-1.6],[11.4,1.5],[11.5,-1.5],[11.6,-1.5],[11.685,-1.5],[11.76,-1.5],[11.85,-1.5],[11.97,1.5],[12.08,1.6],[12.18,-1.5],[12.29,-1.6],[12.4,-1.5],[12.525,1.5],[12.665,-1.6],[12.79,-1.5],[12.93,-1.5],[13.05,-1.5],[13.15,1.5],[13.275,-1.5],[13.425,1.5],[13.59,-1.5],[13.74,1.5],[13.875,-1.5],[14.025,1.5],[14.15,1.5],[14.275,-1.5],[14.425,1.5],[14.575,-1.6],[14.725,1.5],[14.885,-1.5],[15.035,1.5],[15.175,-1.5],[15.325,1.5],[15.475,-1.5],[15.62,1.5]];
const xTicks=[1,2,4,8,16];
const yMajor=[0,4,8,12,16,20];
const yMinor=[2,6,10,14,18,22];
const residualTicks=[-10,0,10];
const scaleBreaks=[3.55,7.07];
const scaleLabels=[["x1",1453],["x4",2003],["x8",2628]];
const legendNames=["Data","Background","Refinement"];

// ---------- colours ----------
const BLUE="#0040ff",RED="#ff0000",GREEN="#009600";

// ---------- scales ----------
const F={l:331,r:2826,t:106.5,m:1703,b:2102};
const x=d3.scaleLog().base(2).domain([.7504,16.28]).range([F.l,F.r]);
const y=d3.scaleLinear().domain([-0.981,23.5]).range([F.m,F.t]);
const y2=d3.scaleLinear().domain([-13.72,13.79]).range([F.b,F.m]);

const svg=d3.select("#c");
const defs=svg.append("defs");
defs.append("clipPath").attr("id","cu").append("rect").attr("x",F.l).attr("y",F.t).attr("width",F.r-F.l).attr("height",F.m-F.t);
defs.append("clipPath").attr("id","cl").append("rect").attr("x",F.l).attr("y",F.m).attr("width",F.r-F.l).attr("height",F.b-F.m);

function styleAxis(g,w,labelSize){
  g.selectAll(".domain").attr("stroke-width",11).attr("stroke-linecap","square");
  g.selectAll(".tick line").attr("stroke-width",w);
  g.selectAll("text").attr("font-size",labelSize||105).attr("font-family","Liberation Sans").attr("fill","#000");
  return g;
}
const put=(ax,tx,ty,w)=>styleAxis(svg.append("g").attr("transform",`translate(${tx},${ty})`).call(ax),w);
const none=()=>"";
const plain=d=>String(d);

// upper panel axes
const gl=put(d3.axisLeft(y).offset(0).tickValues(yMajor).tickSize(-43).tickSizeOuter(0).tickPadding(31).tickFormat(plain),F.l,0,10);
gl.selectAll("text").attr("dy",".343em");
put(d3.axisLeft(y).offset(0).tickValues(yMinor).tickSize(-21).tickSizeOuter(0).tickFormat(none),F.l,0,10);
put(d3.axisRight(y).offset(0).tickValues(yMajor).tickSize(-43).tickSizeOuter(0).tickFormat(none),F.r,0,10);
put(d3.axisRight(y).offset(0).tickValues(yMinor).tickSize(-21).tickSizeOuter(0).tickFormat(none),F.r,0,10);
put(d3.axisTop(x).offset(0).tickValues(xTicks).tickSize(-43).tickSizeOuter(0).tickFormat(none),0,F.t,11);
put(d3.axisBottom(x).offset(0).tickValues(xTicks).tickSize(-43).tickSizeOuter(0).tickFormat(none),0,F.m,11);
// lower panel axes
const gl2=put(d3.axisLeft(y2).offset(0).tickValues(residualTicks).tickSize(-43).tickSizeOuter(0).tickPadding(31).tickFormat(plain),F.l,0,10);
gl2.selectAll("text").attr("dy",".343em");
put(d3.axisRight(y2).offset(0).tickValues(residualTicks).tickSize(-43).tickSizeOuter(0).tickFormat(none),F.r,0,10);
put(d3.axisBottom(x).offset(0).tickValues(xTicks).tickSize(-43).tickSizeOuter(0).tickPadding(75).tickFormat(plain),0,F.b,11);

// data crosses
const p=d3.path();
[dataX1Band,dataX1BandAlt,dataX1Peaks,dataX4Band,dataX4,dataX8Band,dataX8].forEach(a=>a.forEach(([q,i])=>{
  const X=x(q),Y=y(i);
  p.moveTo(X-21.5,Y);p.lineTo(X+21.5,Y);p.moveTo(X,Y-21);p.lineTo(X,Y+21);
}));
const upper=svg.append("g").attr("clip-path","url(#cu)");
upper.append("path").attr("d",p.toString()).attr("fill","none").attr("stroke",BLUE).attr("stroke-width",5);

const line=d3.line().x(d=>x(d[0])).y(d=>y(d[1]));
const line2=d3.line().x(d=>x(d[0])).y(d=>y2(d[1]));
const byQ=(a,b)=>a[0]-b[0];
upper.append("path").attr("d",line(backgroundCurve)).attr("fill","none").attr("stroke",RED).attr("stroke-width",10).attr("stroke-linejoin","bevel");
const fitAll=[...fitX1,...[...fitX4,...fitX4Fine,...fitX8,...fitX8Fine].sort(byQ)];
upper.append("path").attr("d",line(fitAll)).attr("fill","none").attr("stroke",GREEN).attr("stroke-width",11).attr("stroke-linejoin","bevel");

const residualAll=[...residual,...residualFine].sort(byQ);
svg.append("g").attr("clip-path","url(#cl)").append("path").attr("d",line2(residualAll)).attr("fill","none").attr("stroke","#000").attr("stroke-width",10).attr("stroke-linejoin","bevel");

// scale-factor breaks
scaleBreaks.forEach(q=>svg.append("line").attr("x1",x(q)).attr("x2",x(q)).attr("y1",F.t+6).attr("y2",F.m-5).attr("stroke","#000").attr("stroke-width",10).attr("stroke-dasharray","10 10"));
scaleLabels.forEach(([t,X])=>svg.append("text").attr("x",X).attr("y",223).attr("font-size",107).text(t));

// annotation
const ann=svg.append("text").attr("y",320).attr("font-size",107);
ann.append("tspan").attr("x",419).text("YbCl");
ann.append("tspan").attr("x",654).attr("y",346).attr("font-size",75).text("3");
ann.append("tspan").attr("x",744).attr("y",320).text("T=10 K");

// legend
svg.append("path").attr("d",(()=>{const c=d3.path();c.moveTo(505,521);c.lineTo(548,521);c.moveTo(526.5,500);c.lineTo(526.5,542);return c.toString();})()).attr("stroke",BLUE).attr("stroke-width",5).attr("fill","none");
svg.append("line").attr("x1",473).attr("x2",579).attr("y1",629).attr("y2",629).attr("stroke",RED).attr("stroke-width",11);
svg.append("line").attr("x1",473).attr("x2",579).attr("y1",737).attr("y2",737).attr("stroke",GREEN).attr("stroke-width",11);
[550,657,765].forEach((Y,i)=>svg.append("text").attr("x",621).attr("y",Y).attr("font-size",95).text(legendNames[i]));

// axis titles
svg.append("text").attr("transform","translate(106,850) rotate(-90)").attr("text-anchor","middle").attr("font-size",117).text("Normalized Int. (arb. units)");
svg.append("text").attr("transform","translate(117,1892) rotate(-90)").attr("text-anchor","middle").attr("font-size",117).text("Δ/σ");
const xl=svg.append("text").attr("x",1409).attr("y",2406).attr("font-size",117);
xl.append("tspan").text("Q (Å");
xl.append("tspan").attr("dy",-78).attr("font-size",80).text("-1");
xl.append("tspan").attr("dy",78).text(")");
</script>
</body></html>
